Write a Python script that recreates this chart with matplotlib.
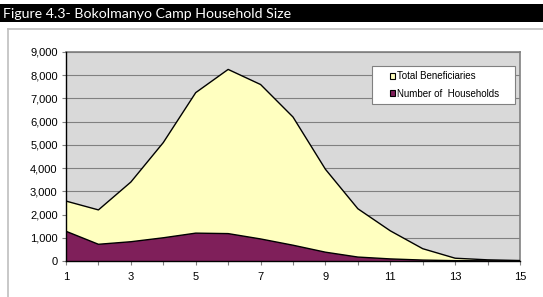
import numpy as np
import matplotlib.pyplot as plt
from matplotlib.patches import Rectangle, Patch
from matplotlib.lines import Line2D
from matplotlib.ticker import FuncFormatter, MultipleLocator

#Household size and series values
size = [1, 2, 3, 4, 5, 6, 7, 8, 9, 10, 11, 12, 13, 14, 15]
total_benef = [2580, 2200, 3400, 5100, 7250, 8250, 7600, 6200, 3950, 2250, 1300, 530, 120, 50, 20]
households = [1280, 720, 830, 1000, 1200, 1180, 950, 680, 380, 170, 90, 40, 15, 8, 3]
xlabels = [1, 3, 5, 7, 9, 11, 13, 15]

title = 'Figure 4.3- Bokolmanyo Camp Household Size'
yellow = '#FFFFC0'
purple = '#7F1F5A'

plt.rcParams['font.family'] = ['Liberation Sans', 'DejaVu Sans']

fig = plt.figure(figsize=(5.43, 2.97), dpi=100)
W, H = 543, 297

#Black caption banner and chart frame
fig.patches.append(Rectangle((0, 1 - 22 / H), 1, 18 / H, transform=fig.transFigure,
                             facecolor='black', edgecolor='none'))
fig.text(3 / W, 1 - 13.5 / H, title, color='white', fontsize=10.2, family=['Lato', 'DejaVu Sans'],
         va='center', ha='left')
fig.add_artist(Line2D([7.5 / W, 1], [1 - 28.5 / H, 1 - 28.5 / H], transform=fig.transFigure,
                      color='#BFBFBF', lw=1.2))
fig.add_artist(Line2D([7.5 / W, 7.5 / W], [0, 1 - 28.5 / H], transform=fig.transFigure,
                      color='#BFBFBF', lw=1.2))

ax = fig.add_axes([66 / W, 1 - 261 / H, (520 - 66) / W, (261 - 52) / H])
ax.set_facecolor('#D9D9D9')

ax.fill_between(size, 0, total_benef, facecolor=yellow, edgecolor='none', zorder=2)
ax.plot(size, total_benef, color='black', lw=1.0, zorder=3)
ax.fill_between(size, 0, households, facecolor=purple, edgecolor='none', zorder=4)
ax.plot(size, households, color='black', lw=1.0, zorder=5)

ax.set_xlim(1, 15)
ax.set_ylim(0, 9000)
ax.set_xticks(xlabels)
ax.set_xticks(size, minor=True)
ax.yaxis.set_major_locator(MultipleLocator(1000))
ax.yaxis.set_major_formatter(FuncFormatter(lambda v, p: f'{int(v):,}'))
ax.grid(axis='y', color='#808080', lw=0.8, zorder=1)
ax.set_axisbelow(True)

for s in ['top', 'right']:
    ax.spines[s].set_color('#808080')
    ax.spines[s].set_linewidth(1.2)
for s in ['left', 'bottom']:
    ax.spines[s].set_color('black')
    ax.spines[s].set_linewidth(1.0)
    ax.spines[s].set_zorder(6)

ax.tick_params(axis='both', which='both', labelsize=8, color='#808080', length=3, width=0.8)
ax.tick_params(axis='x', pad=5)
ax.tick_params(axis='y', pad=3)

#Legend box (fixed size like the original) with frameless legend inside
ax_w, ax_h = 520 - 66, 261 - 52
ax.add_patch(Rectangle(((372 - 66) / ax_w, 1 - (104 - 52) / ax_h), (515 - 372) / ax_w, (104 - 66) / ax_h,
                       transform=ax.transAxes, facecolor='white', edgecolor='#808080', lw=0.8, zorder=7))
handles = [Patch(facecolor=yellow, edgecolor='black', lw=0.8, label='Total Beneficiaries'),
           Patch(facecolor=purple, edgecolor='black', lw=0.8, label='Number of  Households')]
leg = ax.legend(handles=handles, loc='center left',
                bbox_to_anchor=((390 - 66) / ax_w, 1 - (85 - 52) / ax_h),
                fontsize=7, frameon=False, borderpad=0, labelspacing=0.75,
                handlelength=0.55, handleheight=0.55, handletextpad=0.2, borderaxespad=0)
leg.set_zorder(8)

fig.savefig('out.png', dpi=100)
